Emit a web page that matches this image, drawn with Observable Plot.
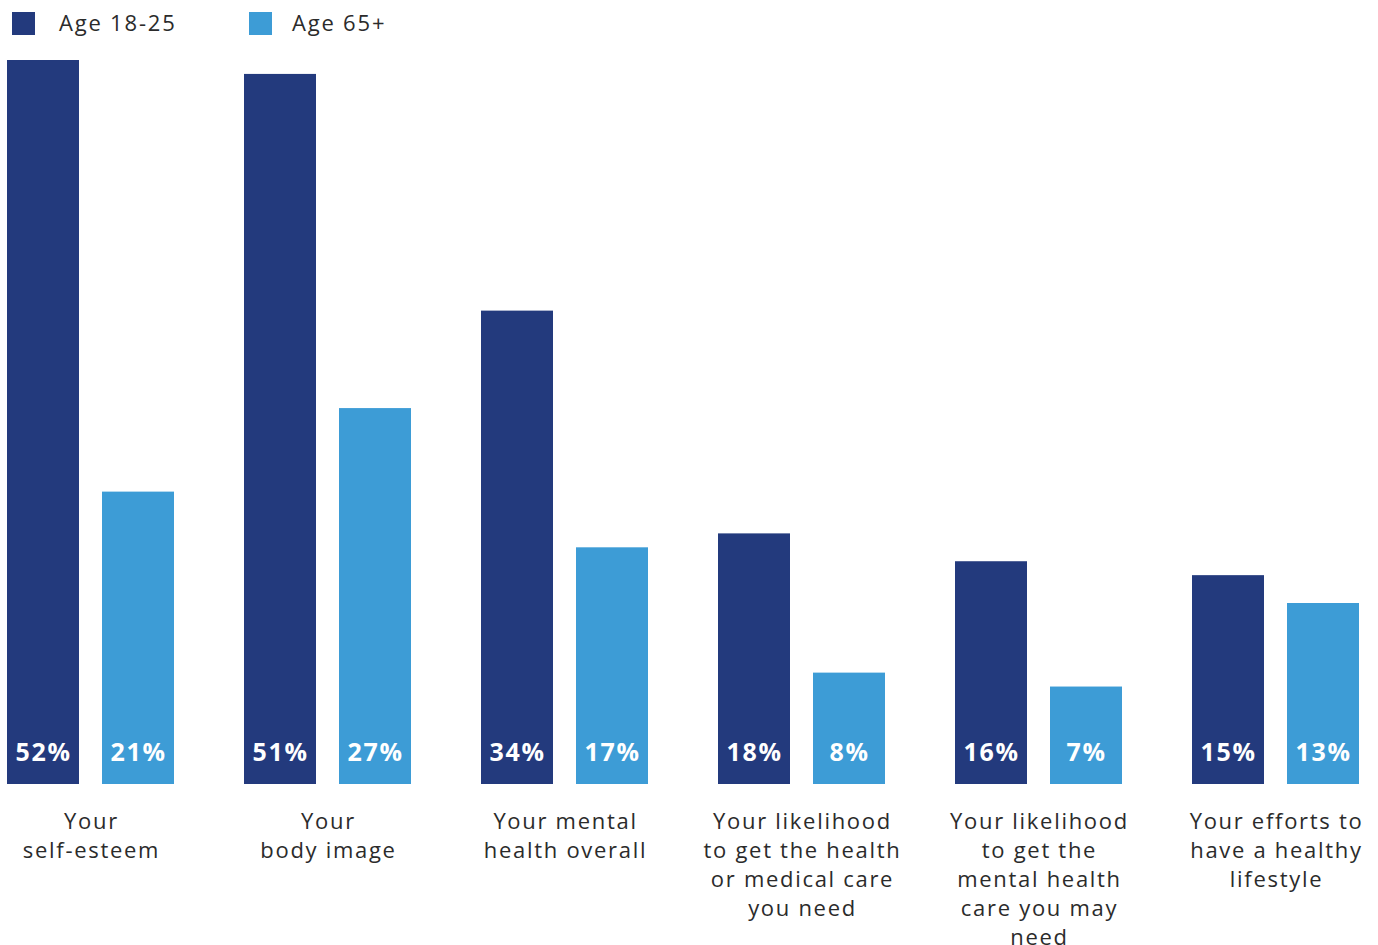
<!DOCTYPE html>
<html>
<head>
<meta charset="utf-8">
<script src="https://cdn.jsdelivr.net/npm/d3@7"></script>
<script src="https://cdn.jsdelivr.net/npm/@observablehq/plot@0.6"></script>
<style>
  html, body { margin: 0; padding: 0; background: #fff; }
  body { width: 1378px; height: 945px; overflow: hidden; font-family: "Open Sans", sans-serif; }
  #legend { height: 48px; position: relative; }
  .item { position: absolute; top: 12px; display: flex; align-items: center; font-size: 22px; color: #2b2b2b; height: 23px; letter-spacing: 1.8px; }
  .item span { position: relative; top: -2px; }
  .sw { width: 23px; height: 23px; }
  svg { display: block; }
  svg text { letter-spacing: 1.7px; }
</style>
</head>
<body>
<div id="legend"></div>
<div id="chart"></div>
<script>
const categories = [
  "Your\nself-esteem",
  "Your\nbody image",
  "Your mental\nhealth overall",
  "Your likelihood\nto get the health\nor medical care\nyou need",
  "Your likelihood\nto get the\nmental health\ncare you may\nneed",
  "Your efforts to\nhave a healthy\nlifestyle"
];
const series = ["Age 18-25", "Age 65+"];
const age18to25 = [52, 51, 34, 18, 16, 15];
const age65plus = [21, 27, 17, 8, 7, 13];
const colors = ["#233a7d", "#3d9cd6"];

const data = [];
categories.forEach((c, i) => {
  data.push({category: c, group: series[0], value: age18to25[i]});
  data.push({category: c, group: series[1], value: age65plus[i]});
});

// legend
const legend = document.getElementById("legend");
const legendX = [12, 249];
const legendGap = [24, 20];
series.forEach((s, i) => {
  const d = document.createElement("div");
  d.className = "item";
  d.style.left = legendX[i] + "px";
  d.innerHTML = `<div class="sw" style="background:${colors[i]};margin-right:${legendGap[i]}px"></div><span>${s}</span>`;
  legend.appendChild(d);
});

const chart = Plot.plot({
  width: 1378,
  height: 897,
  marginLeft: 6,
  marginRight: 17,
  marginTop: 12,
  marginBottom: 161,
  style: {fontFamily: "'Open Sans', sans-serif", color: "#2b2b2b", background: "#fff"},
  fx: {domain: categories, paddingInner: 0.293, paddingOuter: 0, label: null},
  x: {domain: series, paddingInner: 0.24, paddingOuter: 0, axis: null},
  y: {domain: [0, 52], axis: null},
  color: {domain: series, range: colors},
  marks: [
    Plot.barY(data, {fx: "category", x: "group", y: "value", fill: "group"}),
    Plot.text(data, {fx: "category", x: "group", y: 0, text: d => d.value + "%", fill: "white",
      fontWeight: "bold", fontSize: 25, lineAnchor: "bottom", dy: -24}),
    Plot.axisFx({anchor: "bottom", tickSize: 0, tickPadding: 24, fontSize: 22, lineHeight: 1.32,
      fill: "#2b2b2b", label: null})
  ]
});
document.getElementById("chart").appendChild(chart);
</script>
</body>
</html>
